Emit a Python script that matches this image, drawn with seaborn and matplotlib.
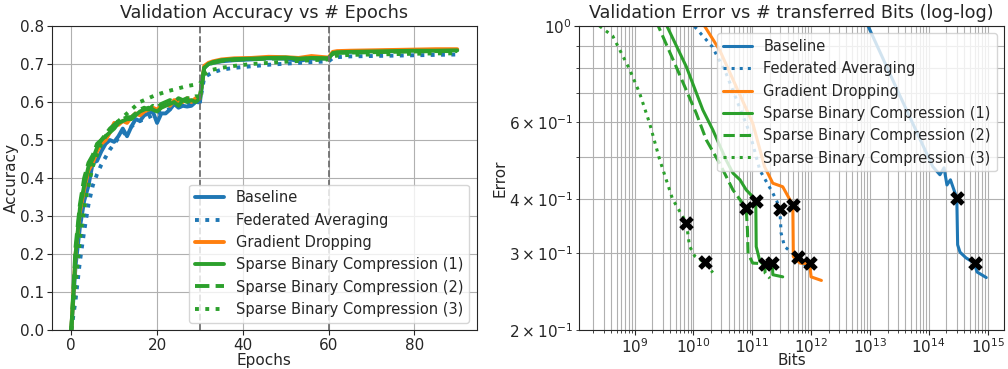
import numpy as np
import pandas as pd
import matplotlib
matplotlib.use("Agg")
import matplotlib.pyplot as plt
import seaborn as sns

# ---- left chart: validation accuracy per epoch ----
epochs = [0, 1, 2, 3, 4, 5, 6, 7, 8, 9, 10, 11, 12, 13, 14, 15, 16, 17, 18, 19,
          20, 21, 22, 23, 24, 25, 26, 27, 28, 29, 30, 31, 32, 33, 35, 38, 42, 46,
          50, 53, 56, 60, 61, 62, 65, 70, 75, 80, 85, 90]
acc_baseline = [0.0, 0.17, 0.27, 0.34, 0.38, 0.44, 0.445, 0.47, 0.49, 0.50, 0.495, 0.51,
                0.53, 0.51, 0.535, 0.555, 0.55, 0.565, 0.57, 0.575, 0.545, 0.57, 0.57,
                0.58, 0.595, 0.585, 0.59, 0.588, 0.59, 0.60, 0.60, 0.69, 0.70, 0.703,
                0.707, 0.71, 0.712, 0.715, 0.714, 0.708, 0.714, 0.715, 0.728, 0.731,
                0.733, 0.734, 0.735, 0.736, 0.736, 0.737]
acc_fedavg = [0.0, 0.08, 0.18, 0.26, 0.33, 0.38, 0.41, 0.435, 0.455, 0.475, 0.49, 0.505,
              0.515, 0.525, 0.535, 0.545, 0.55, 0.555, 0.56, 0.565, 0.57, 0.575, 0.578,
              0.582, 0.585, 0.588, 0.59, 0.593, 0.596, 0.598, 0.60, 0.665, 0.672, 0.678,
              0.685, 0.69, 0.694, 0.698, 0.701, 0.703, 0.705, 0.707, 0.716, 0.718, 0.72,
              0.721, 0.722, 0.723, 0.724, 0.725]
acc_graddrop = [0.0, 0.2, 0.31, 0.37, 0.42, 0.44, 0.47, 0.49, 0.50, 0.52, 0.545, 0.54,
                0.55, 0.545, 0.56, 0.57, 0.565, 0.575, 0.58, 0.585, 0.58, 0.59, 0.595,
                0.59, 0.605, 0.60, 0.60, 0.61, 0.60, 0.61, 0.61, 0.695, 0.703, 0.707,
                0.712, 0.715, 0.716, 0.719, 0.718, 0.716, 0.721, 0.717, 0.732, 0.734,
                0.735, 0.736, 0.737, 0.738, 0.739, 0.739]
acc_sbc1 = [0.0, 0.2, 0.32, 0.38, 0.43, 0.45, 0.48, 0.50, 0.51, 0.52, 0.53, 0.545, 0.55,
            0.555, 0.555, 0.565, 0.575, 0.58, 0.585, 0.58, 0.575, 0.585, 0.59, 0.595,
            0.60, 0.59, 0.605, 0.60, 0.605, 0.60, 0.61, 0.69, 0.70, 0.705, 0.71, 0.713,
            0.714, 0.716, 0.717, 0.714, 0.716, 0.715, 0.729, 0.731, 0.732, 0.733, 0.734,
            0.735, 0.735, 0.736]
acc_sbc2 = [0.0, 0.22, 0.33, 0.40, 0.44, 0.46, 0.49, 0.50, 0.515, 0.53, 0.54, 0.55, 0.555,
            0.56, 0.56, 0.57, 0.58, 0.585, 0.58, 0.59, 0.585, 0.595, 0.60, 0.605, 0.60,
            0.61, 0.605, 0.61, 0.61, 0.615, 0.615, 0.69, 0.698, 0.703, 0.708, 0.711,
            0.713, 0.714, 0.715, 0.713, 0.715, 0.714, 0.727, 0.729, 0.73, 0.731, 0.732,
            0.733, 0.734, 0.734]
acc_sbc3 = [0.0, 0.12, 0.24, 0.32, 0.38, 0.43, 0.46, 0.49, 0.51, 0.525, 0.54, 0.55, 0.56,
            0.57, 0.58, 0.59, 0.60, 0.605, 0.61, 0.615, 0.62, 0.623, 0.627, 0.63, 0.633,
            0.636, 0.639, 0.642, 0.644, 0.646, 0.648, 0.672, 0.68, 0.685, 0.69, 0.695,
            0.70, 0.703, 0.706, 0.708, 0.71, 0.712, 0.72, 0.722, 0.724, 0.725, 0.726,
            0.727, 0.728, 0.728]

# ---- right chart: validation error vs transferred bits ----
bits_baseline = [7.9e12, 3.2e13, 1.17e14, 1.55e14, 1.82e14, 2.04e14, 2.34e14, 3.0e14,
                 3.1e14, 3.4e14, 4.3e14, 6.0e14, 6.6e14, 9.5e14]
err_baseline = [1.05, 0.694, 0.475, 0.455, 0.472, 0.431, 0.443, 0.402, 0.314, 0.302,
                0.293, 0.285, 0.272, 0.264]
bits_fedavg = [8.5e9, 2.1e10, 3.6e10, 9.1e10, 1.35e11, 2.24e11, 2.63e11, 2.95e11, 3.1e11,
               3.55e11, 4.9e11, 5.9e11, 8.3e11]
err_fedavg = [1.03, 0.896, 0.778, 0.567, 0.466, 0.413, 0.395, 0.379, 0.334, 0.311, 0.300,
              0.295, 0.280]
bits_graddrop = [1.35e10, 2.8e10, 1.02e11, 1.62e11, 2.24e11, 3.3e11, 4.4e11, 4.9e11,
                 5.0e11, 6.5e11, 9.5e11, 1.0e12, 1.5e12]
err_graddrop = [1.03, 0.88, 0.598, 0.475, 0.435, 0.427, 0.398, 0.388, 0.295, 0.285, 0.284,
                0.265, 0.260]
bits_sbc1 = [3.2e9, 7.6e9, 1.45e10, 2.14e10, 3.6e10, 4.7e10, 6.2e10, 7.9e10, 1.02e11,
             1.15e11, 1.17e11, 1.35e11, 1.74e11, 2.2e11, 2.24e11, 3.3e11]
err_sbc1 = [1.03, 0.806, 0.641, 0.577, 0.492, 0.459, 0.443, 0.420, 0.405, 0.395, 0.311,
            0.288, 0.278, 0.285, 0.268, 0.265]
bits_sbc2 = [2.3e9, 5.1e9, 1.12e10, 1.66e10, 2.8e10, 4.7e10, 7.9e10, 8.3e10, 8.5e10,
             1.02e11, 1.62e11, 1.66e11, 2.0e11]
err_sbc2 = [1.03, 0.806, 0.63, 0.547, 0.483, 0.42, 0.381, 0.34, 0.30, 0.285, 0.284, 0.27,
            0.263]
bits_sbc3 = [2.54e8, 4.27e8, 8.2e8, 1.22e9, 1.8e9, 2.66e9, 4.43e9, 7.6e9, 8.6e9, 1.05e10,
             1.55e10, 2.14e10]
err_sbc3 = [1.0, 0.948, 0.796, 0.701, 0.598, 0.494, 0.400, 0.353, 0.312, 0.296, 0.286,
            0.271]

# markers at epoch 30 and 60 (lr drops)
mark_bits = [3.0e14, 6.0e14, 2.95e11, 5.9e11, 4.9e11, 9.5e11, 1.15e11, 2.2e11,
             7.9e10, 1.62e11, 7.6e9, 1.55e10]
mark_err = [0.402, 0.285, 0.379, 0.295, 0.388, 0.285, 0.395, 0.285, 0.381, 0.284,
            0.353, 0.286]

names = ["Baseline", "Federated Averaging", "Gradient Dropping",
         "Sparse Binary Compression (1)", "Sparse Binary Compression (2)",
         "Sparse Binary Compression (3)"]
blue, orange, green = "#1f77b4", "#ff7f0e", "#2ca02c"
colors = [blue, blue, orange, green, green, green]
styles = ["-", ":", "-", "-", "--", ":"]

sns.set_style("ticks")
plt.rcParams["font.family"] = ["DejaVu Sans"]
plt.rcParams["grid.color"] = "#b0b0b0"
plt.rcParams["grid.linewidth"] = 0.8

fig, (ax1, ax2) = plt.subplots(1, 2, figsize=(10.08, 3.69), dpi=100)
fig.subplots_adjust(left=0.0516, right=0.996, bottom=0.1057, top=0.9295, wspace=0.2426)

accs = [acc_baseline, acc_fedavg, acc_graddrop, acc_sbc1, acc_sbc2, acc_sbc3]
for name, acc, c, ls in zip(names, accs, colors, styles):
    sns.lineplot(x=epochs, y=acc, ax=ax1, color=c, linestyle=ls, lw=2.8, label=name)
ax1.axvline(30, color="#707070", ls="--", lw=1.3)
ax1.axvline(60, color="#707070", ls="--", lw=1.3)
ax1.set_ylim(0, 0.8)
ax1.set_xlim(-4.5, 94.5)
ax1.set_xticks([0, 20, 40, 60, 80])
ax1.set_yticks(np.arange(0, 0.81, 0.1))
ax1.grid(True)
ax1.set_title("Validation Accuracy vs # Epochs", fontsize=12.7)
ax1.set_xlabel("Epochs", fontsize=11)
ax1.set_ylabel("Accuracy", fontsize=11)
ax1.xaxis.set_label_coords(0.5, -0.075)
ax1.yaxis.set_label_coords(-0.078, 0.5)
ax1.tick_params(labelsize=11, pad=2)
ax1.legend(loc="lower right", fontsize=10.5)

bits = [bits_baseline, bits_fedavg, bits_graddrop, bits_sbc1, bits_sbc2, bits_sbc3]
errs = [err_baseline, err_fedavg, err_graddrop, err_sbc1, err_sbc2, err_sbc3]
for name, b, e, c, ls in zip(names, bits, errs, colors, styles):
    sns.lineplot(x=b, y=e, ax=ax2, color=c, linestyle=ls, lw=2.2, label=name, sort=False)
sns.scatterplot(x=mark_bits, y=mark_err, ax=ax2, marker="X", color="black", s=110,
                linewidth=0, zorder=5, legend=False)
ax2.set_xscale("log")
ax2.set_yscale("log")
ax2.set_xlim(1.16e8, 1.9e15)
ax2.set_ylim(0.2, 1.0)
ax2.grid(True, which="both")
ax2.set_title("Validation Error vs # transferred Bits (log-log)", fontsize=12.7)
ax2.set_xlabel("Bits", fontsize=11)
ax2.set_ylabel("Error", fontsize=11)
ax2.xaxis.set_label_coords(0.5, -0.075)
ax2.yaxis.set_label_coords(-0.17, 0.5)
ax2.tick_params(which="both", labelsize=11, pad=2)
ax2.legend(loc="upper right", fontsize=10.5)

fig.savefig("out.png", dpi=100)
